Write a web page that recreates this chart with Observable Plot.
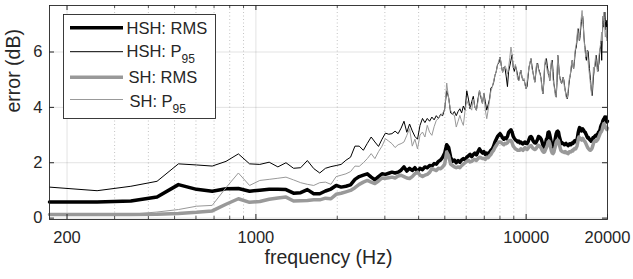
<!DOCTYPE html>
<html><head><meta charset="utf-8">
<script src="https://cdn.jsdelivr.net/npm/d3@7"></script>
<script src="https://cdn.jsdelivr.net/npm/@observablehq/plot@0.6"></script>
<style>html,body{margin:0;padding:0;background:#fff;}</style>
</head><body><div id="chart"></div>
<script>
// FFT bins (44.1 kHz, 512-point): bin 2 .. 232
const binHz = 44100 / 512;
const bins = d3.range(2, 233);

const xTicks = [200, 1000, 10000, 20000];
const xMinor = [300, 400, 500, 600, 700, 800, 900, 2000, 3000, 4000, 5000, 6000, 7000, 8000, 9000];
const yTicks = [0, 2, 4, 6];

const seriesNames = ["HSH: RMS", "HSH: P95", "SH: RMS", "SH: P95"];

const hshRms = [
0.58,0.58,0.62,0.76,1.21,1.04,0.97,1.06,1.07,0.97,
1.01,1.04,1.04,1.03,0.90,0.92,1.03,0.88,0.88,
0.98,1.05,1.18,1.12,1.15,1.2,1.4,1.5,1.55,1.6,
1.48,1.38,1.5,1.6,1.58,1.62,1.66,1.63,1.66,
1.73,1.85,1.7,1.8,1.72,1.82,1.68,1.8,1.75,1.85,
1.82,1.9,1.88,1.97,1.95,2.05,2.1,2.2,2.35,2.65,
2.55,2.2,2.05,2.1,2.0,2.08,2.02,2.1,2.15,2.1,
2.2,2.25,2.3,2.22,2.3,2.35,2.28,2.4,2.5,2.42,
2.35,2.4,2.3,2.35,2.28,2.38,2.45,2.5,2.6,2.75,
2.85,2.95,3.0,3.05,2.98,2.9,2.85,2.9,2.87,2.95,
3.1,3.15,3.19,3.1,2.95,2.88,2.82,2.8,2.75,2.78,
2.72,2.75,2.7,2.68,2.72,2.75,2.7,2.69,2.75,2.85,
2.93,2.95,2.9,2.8,2.75,2.72,2.71,2.78,2.85,2.95,
2.93,2.9,2.85,2.75,2.62,2.57,2.6,2.7,2.85,2.9,
3.1,3.11,3.0,2.85,2.7,2.6,2.57,2.6,2.75,2.9,
3.05,3.12,3.14,3.1,2.95,2.85,2.75,2.7,2.72,2.69,
2.69,2.65,2.68,2.7,2.66,2.65,2.62,2.65,2.68,2.65,
2.65,2.7,2.72,2.7,2.75,2.78,2.8,2.76,2.8,2.81,
2.95,3.1,3.2,3.27,3.25,3.2,3.15,3.2,3.22,3.18,
3.15,3.11,3.1,3.05,3.0,2.95,2.9,2.92,2.88,2.85,
2.82,2.81,2.78,2.82,2.85,2.9,2.88,2.92,2.95,2.97,
2.99,2.97,2.99,3.02,3.05,3.1,3.12,3.15,3.2,3.3,
3.35,3.39,3.42,3.5,3.55,3.58,3.6,3.65,3.62,3.65,
3.55,3.47,3.5];

const hshP95 = [
1.12,0.99,1.15,1.33,1.96,1.92,1.88,2.05,2.32,1.96,
1.94,2.02,1.85,2.0,1.8,1.82,2.08,1.79,1.63,
1.8,1.86,1.9,1.94,2.09,2.2,2.6,2.6,2.45,2.7,
2.93,2.75,2.59,2.85,3.07,3.03,3.05,3.14,3.05,
3.25,3.5,3.1,3.4,3.15,2.95,2.85,3.35,3.6,3.45,
3.6,3.5,3.65,3.55,3.7,3.6,3.75,3.7,3.95,4.6,
4.35,3.8,3.75,3.85,3.7,3.85,3.95,3.8,4.05,3.9,
4.6,4.3,3.95,4.2,4.4,4.0,3.9,4.3,4.6,4.35,
4.15,4.5,4.2,3.9,4.1,4.3,4.7,4.75,4.9,5.15,
5.3,5.55,5.6,5.82,5.5,5.27,5.45,5.4,5.1,4.75,
5.3,5.5,5.7,5.9,5.45,5.3,5.5,5.35,5.15,4.97,
5.2,5.34,5.1,4.97,5.0,4.85,4.68,4.75,5.1,5.45,
5.6,5.76,5.5,5.27,5.1,4.91,5.2,5.55,5.6,5.4,
5.3,5.2,5.0,4.7,4.49,4.9,5.52,5.6,5.76,5.5,
5.3,5.15,4.97,5.3,5.6,5.7,5.3,4.86,4.7,4.5,
4.37,4.9,5.88,5.6,5.2,5.05,4.95,4.86,4.95,5.09,
5.0,4.8,4.6,4.5,4.35,4.31,4.5,4.8,5.0,5.16,
5.3,5.55,5.7,5.5,5.4,5.6,5.9,6.1,6.18,6.4,
6.7,6.84,6.6,6.42,6.6,6.9,7.1,7.25,7.3,7.0,
6.54,6.3,6.1,5.82,5.7,5.9,6.06,6.0,5.7,5.4,
5.2,4.97,4.7,4.5,4.43,4.8,5.1,5.3,5.45,5.5,
5.7,5.88,5.7,5.45,5.3,5.5,5.6,5.9,6.1,6.18,
6.4,5.7,6.5,7.0,7.3,6.9,7.25,7.44,7.1,6.8,
7.14,6.5,7.0];

const shRms = [
0.13,0.13,0.13,0.14,0.17,0.21,0.26,0.5,0.7,0.57,
0.6,0.68,0.73,0.76,0.62,0.63,0.64,0.66,0.66,
0.72,0.7,0.86,0.9,0.95,1.0,1.1,1.22,1.3,1.36,
1.3,1.25,1.34,1.45,1.44,1.46,1.48,1.45,1.52,
1.55,1.5,1.45,1.43,1.5,1.6,1.66,1.55,1.5,1.55,
1.58,1.65,1.79,1.75,1.72,1.8,1.78,1.85,1.95,2.39,
2.25,1.95,1.9,1.85,1.82,1.85,1.82,1.9,1.95,2.0,
2.05,2.09,2.03,2.05,2.1,2.12,2.08,2.15,2.2,2.18,
2.15,2.15,2.12,2.2,2.18,2.25,2.3,2.39,2.45,2.55,
2.62,2.7,2.75,2.75,2.72,2.68,2.65,2.7,2.69,2.72,
2.78,2.8,2.8,2.72,2.6,2.55,2.5,2.48,2.45,2.45,
2.45,2.5,2.48,2.45,2.5,2.55,2.5,2.48,2.52,2.57,
2.6,2.62,2.57,2.52,2.5,2.48,2.5,2.55,2.6,2.63,
2.6,2.57,2.52,2.45,2.4,2.38,2.4,2.48,2.55,2.63,
2.75,2.78,2.7,2.55,2.42,2.35,2.33,2.38,2.5,2.6,
2.75,2.8,2.82,2.78,2.65,2.55,2.45,2.42,2.4,2.39,
2.39,2.37,2.4,2.38,2.35,2.36,2.33,2.38,2.4,2.39,
2.39,2.42,2.45,2.43,2.48,2.5,2.52,2.5,2.55,2.6,
2.72,2.85,2.93,2.9,2.88,2.85,2.82,2.85,2.88,2.85,
2.8,2.78,2.75,2.7,2.65,2.6,2.55,2.52,2.5,2.47,
2.45,2.45,2.48,2.5,2.55,2.62,2.7,2.75,2.78,2.8,
2.8,2.78,2.8,2.82,2.85,2.9,2.95,3.0,3.05,3.1,
3.11,3.15,3.2,3.28,3.35,3.41,3.4,3.35,3.3,3.25,
3.23,3.2,3.25];

const shP95 = [
0.12,0.12,0.14,0.22,0.31,0.43,0.46,1.1,1.63,1.18,
1.36,1.4,1.44,1.48,1.38,1.28,1.22,1.18,1.28,
1.3,1.22,1.5,1.55,1.6,1.68,1.88,1.87,2.0,2.15,
2.33,2.15,2.4,2.6,2.87,2.78,2.69,2.55,2.65,
2.69,2.75,2.99,3.23,2.6,2.85,2.5,3.0,3.11,2.93,
3.35,3.1,2.99,3.3,3.53,3.6,3.71,3.8,3.89,4.88,
4.3,3.89,3.75,3.71,3.29,3.5,3.71,3.5,3.35,3.9,
4.25,4.1,4.01,3.9,4.3,4.0,3.89,4.2,4.61,4.4,
4.13,4.5,3.9,3.59,3.9,4.25,4.6,4.73,4.95,5.16,
5.3,5.52,5.7,5.82,5.5,5.27,5.45,5.5,5.4,5.2,
5.45,5.8,6.18,5.9,5.45,5.4,5.55,5.3,5.0,4.97,
5.25,5.34,5.1,4.97,5.05,4.8,4.68,4.9,5.2,5.45,
5.65,5.76,5.4,5.27,5.05,4.91,5.3,5.6,5.55,5.35,
5.25,5.16,4.95,4.6,4.49,5.0,5.6,5.76,5.5,5.3,
5.2,5.3,4.97,5.4,5.7,5.6,5.0,4.86,4.6,4.4,
4.37,5.2,5.88,5.5,5.2,5.0,4.9,4.86,5.0,5.09,
4.95,4.7,4.6,4.4,4.31,4.35,4.6,4.9,5.1,5.16,
5.4,5.6,5.7,5.45,5.4,5.7,6.0,6.18,6.3,6.5,
6.84,6.7,6.42,6.5,6.8,7.1,7.3,7.5,7.2,6.9,
6.54,6.2,6.0,5.82,5.9,6.06,5.95,5.6,5.4,5.2,
5.0,4.8,4.6,4.43,4.7,5.0,5.45,5.3,5.5,5.7,
5.88,5.6,5.45,5.3,5.4,5.6,5.9,6.0,6.18,6.3,
6.5,6.72,6.4,6.9,7.1,7.44,7.2,6.8,6.54,6.7,
6.9,6.4,6.7];

[hshRms, hshP95, shRms, shP95].forEach((a, i) => {
  if (a.length !== bins.length) throw new Error(seriesNames[i] + " length " + a.length);
});

const FONT = "'Liberation Sans', Arial, Helvetica, sans-serif";
const AX = "#262626";
const toRows = vals => bins.map((k, i) => ({f: k * binHz, v: vals[i]}));

const styles = [
  {vals: hshRms, stroke: "#000000", width: 3.5},
  {vals: hshP95, stroke: "#000000", width: 1},
  {vals: shRms, stroke: "#999999", width: 3.5},
  {vals: shP95, stroke: "#999999", width: 1}
];

const plot = Plot.plot({
  width: 633, height: 279,
  marginLeft: 49, marginRight: 26, marginTop: 5, marginBottom: 60,
  style: {fontFamily: FONT, fontSize: "16.5px", background: "#fff", color: AX},
  x: {type: "log", domain: [bins[0] * binHz, 20000]},
  y: {domain: [-0.05, 7.68]},
  marks: [
    Plot.ruleX(xMinor, {stroke: AX, strokeOpacity: 0.35, strokeDasharray: "1,2.5", strokeWidth: 0.8}),
    Plot.ruleX(xTicks, {stroke: AX, strokeOpacity: 0.13}),
    Plot.ruleY(yTicks, {stroke: AX, strokeOpacity: 0.13}),
    ...styles.map(s => Plot.line(toRows(s.vals), {x: "f", y: "v", stroke: s.stroke, strokeWidth: s.width, strokeLinejoin: "round"})),
    Plot.tickX(xTicks, {x: d => d, insetTop: 209, stroke: AX}),
    Plot.tickX(xTicks, {x: d => d, insetBottom: 209, stroke: AX}),
    Plot.tickX(xMinor, {x: d => d, insetTop: 211, stroke: AX, strokeWidth: 0.8}),
    Plot.tickX(xMinor, {x: d => d, insetBottom: 211, stroke: AX, strokeWidth: 0.8}),
    Plot.tickY(yTicks, {y: d => d, insetRight: 553, stroke: AX}),
    Plot.tickY(yTicks, {y: d => d, insetLeft: 553, stroke: AX}),
    Plot.frame({stroke: AX, strokeWidth: 0.9}),
    Plot.axisX({ticks: xTicks, tickSize: 0, tickPadding: 12, tickFormat: d => String(d), fontSize: 16.5, label: null, fill: AX}),
    Plot.axisY({ticks: yTicks, tickSize: 0, tickPadding: 7, tickFormat: d => String(d), fontSize: 16.5, label: null, fill: AX}),
    Plot.text(["frequency (Hz)"], {text: d => d, frameAnchor: "bottom", dy: 44, fontSize: 19.5, fill: AX}),
    Plot.text(["error (dB)"], {text: d => d, frameAnchor: "left", rotate: -90, dx: -35.5, fontSize: 19.5, fill: AX})
  ]
});

// Legend (inside the axes box, top-left)
const svg = d3.select(plot);
const lg = svg.append("g").attr("font-family", FONT).attr("font-size", 16.5)
  .attr("fill", AX).attr("text-anchor", "start");
lg.append("rect").attr("x", 63.5).attr("y", 14.5).attr("width", 152).attr("height", 104)
  .attr("fill", "#fff").attr("stroke", AX).attr("stroke-width", 0.9);
const legendRows = [
  {main: "HSH: RMS", sub: "", lineY: 27.7, base: 33.5, tx: 126.5},
  {main: "HSH: P", sub: "95", lineY: 51.7, base: 56.8, tx: 126.5},
  {main: "SH: RMS", sub: "", lineY: 77.3, base: 82.8, tx: 128.5},
  {main: "SH: P", sub: "95", lineY: 99.5, base: 107, tx: 129.5}
];
legendRows.forEach((r, i) => {
  lg.append("line").attr("x1", 70).attr("x2", 123).attr("y1", r.lineY).attr("y2", r.lineY)
    .attr("stroke", styles[i].stroke).attr("stroke-width", styles[i].width);
  const t = lg.append("text").attr("x", r.tx).attr("y", r.base).attr("text-anchor", "start");
  t.append("tspan").text(r.main);
  if (r.sub) t.append("tspan").attr("dy", 6).attr("font-size", 12).text(r.sub);
});

document.getElementById("chart").appendChild(plot);
</script></body></html>
